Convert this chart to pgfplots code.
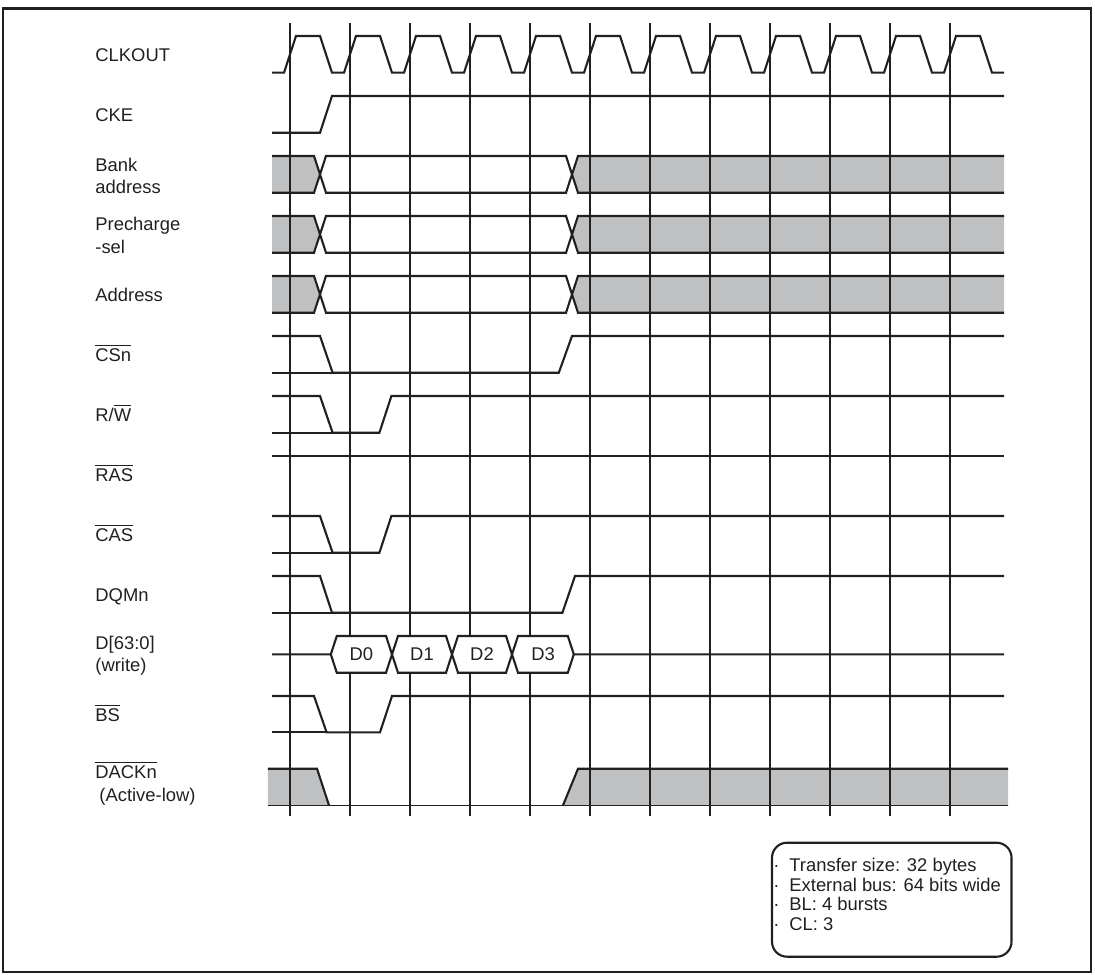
\documentclass[border=0pt]{standalone}
\usepackage{pgfplots}
\pgfplotsset{compat=1.18}
\usepackage{fontspec}
\setmainfont{Liberation Sans}
\definecolor{busgray}{RGB}{191,192,194}
\definecolor{sig}{RGB}{35,31,32}
\newcommand{\lf}{\fontsize{9.2}{11}\selectfont}
\newcommand{\ol}[1]{$\overline{\hbox{#1}}$}
\newcommand{\lab}[3]{\node[anchor=base west, inner sep=0pt, font=\lf, text=sig] at (axis cs:#1,#2) {#3};}
\begin{document}
\begin{tikzpicture}
\begin{axis}[hide axis, scale only axis, width=547.5pt, height=487pt,
  xmin=-4.83333, xmax=13.41667, ymin=0, ymax=974, y dir=reverse, clip=false,
  s/.style={sig, line width=1.05pt, no markers, solid, line join=miter, miter limit=4},
  g/.style={fill=busgray, draw=none, no markers}]
\path (rel axis cs:0,0) rectangle (rel axis cs:1,1);
% ---- gray fills (bus don't-care regions)
\addplot[g] coordinates {(-0.3,156) (0.4,156) (0.5,174.3) (0.4,192.7) (-0.3,192.7)} --cycle;
\addplot[g] coordinates {(4.7,174.3) (4.8,156) (11.9,156) (11.9,192.7) (4.8,192.7)} --cycle;
\addplot[g] coordinates {(-0.3,216) (0.4,216) (0.5,234.3) (0.4,252.7) (-0.3,252.7)} --cycle;
\addplot[g] coordinates {(4.7,234.3) (4.8,216) (11.9,216) (11.9,252.7) (4.8,252.7)} --cycle;
\addplot[g] coordinates {(-0.3,276) (0.4,276) (0.5,294.3) (0.4,312.7) (-0.3,312.7)} --cycle;
\addplot[g] coordinates {(4.7,294.3) (4.8,276) (11.9,276) (11.9,312.7) (4.8,312.7)} --cycle;
\addplot[g] coordinates {(-0.37,768.7) (0.45,768.7) (0.65,805.3) (-0.37,805.3)} --cycle;
\addplot[g] coordinates {(4.55,805.3) (4.8,768.7) (11.97,768.7) (11.97,805.3)} --cycle;
% ---- clock grid lines
\pgfplotsinvokeforeach{0,...,11}{\addplot[sig, line width=0.6pt, no markers] coordinates {(#1,23) (#1,816)};}
% ---- D hexagons (white)
\addplot[fill=white, draw=none, no markers] coordinates {(0.68,654.3) (0.78,636) (1.6,636) (1.7,654.3) (1.6,672.7) (0.78,672.7)} --cycle;
\addplot[fill=white, draw=none, no markers] coordinates {(1.7,654.3) (1.8,636) (2.6,636) (2.7,654.3) (2.6,672.7) (1.8,672.7)} --cycle;
\addplot[fill=white, draw=none, no markers] coordinates {(2.7,654.3) (2.8,636) (3.6,636) (3.7,654.3) (3.6,672.7) (2.8,672.7)} --cycle;
\addplot[fill=white, draw=none, no markers] coordinates {(3.7,654.3) (3.8,636) (4.63,636) (4.73,654.3) (4.63,672.7) (3.8,672.7)} --cycle;
% ---- signals
% CLKOUT
\addplot[s] coordinates {(-0.3,72.7)
 (-0.1,72.7)(0.1,36)(0.5,36)(0.7,72.7)
 (0.9,72.7)(1.1,36)(1.5,36)(1.7,72.7)
 (1.9,72.7)(2.1,36)(2.5,36)(2.7,72.7)
 (2.9,72.7)(3.1,36)(3.5,36)(3.7,72.7)
 (3.9,72.7)(4.1,36)(4.5,36)(4.7,72.7)
 (4.9,72.7)(5.1,36)(5.5,36)(5.7,72.7)
 (5.9,72.7)(6.1,36)(6.5,36)(6.7,72.7)
 (6.9,72.7)(7.1,36)(7.5,36)(7.7,72.7)
 (7.9,72.7)(8.1,36)(8.5,36)(8.7,72.7)
 (8.9,72.7)(9.1,36)(9.5,36)(9.7,72.7)
 (9.9,72.7)(10.1,36)(10.5,36)(10.7,72.7)
 (10.9,72.7)(11.1,36)(11.5,36)(11.7,72.7)
 (11.9,72.7)};
% CKE
\addplot[s] coordinates {(-0.3,132.7) (0.5,132.7) (0.7,96) (11.9,96)};
% Bank address
\addplot[s] coordinates {(-0.3,156) (0.4,156) (0.6,192.7) (4.6,192.7) (4.8,156) (11.9,156)};
\addplot[s] coordinates {(-0.3,192.7) (0.4,192.7) (0.6,156) (4.6,156) (4.8,192.7) (11.9,192.7)};
% Precharge-sel
\addplot[s] coordinates {(-0.3,216) (0.4,216) (0.6,252.7) (4.6,252.7) (4.8,216) (11.9,216)};
\addplot[s] coordinates {(-0.3,252.7) (0.4,252.7) (0.6,216) (4.6,216) (4.8,252.7) (11.9,252.7)};
% Address
\addplot[s] coordinates {(-0.3,276) (0.4,276) (0.6,312.7) (4.6,312.7) (4.8,276) (11.9,276)};
\addplot[s] coordinates {(-0.3,312.7) (0.4,312.7) (0.6,276) (4.6,276) (4.8,312.7) (11.9,312.7)};
% CSn
\addplot[s] coordinates {(-0.3,336) (0.5,336) (0.71,372.7) (4.48,372.7) (4.7,336) (11.9,336)};
\addplot[s] coordinates {(-0.3,372.7) (0.71,372.7)};
% R/W
\addplot[s] coordinates {(-0.3,396) (0.5,396) (0.71,432.7) (1.49,432.7) (1.69,396) (11.9,396)};
\addplot[s] coordinates {(-0.3,432.7) (0.71,432.7)};
% RAS
\addplot[s] coordinates {(-0.3,456) (11.9,456)};
% CAS
\addplot[s] coordinates {(-0.3,516) (0.5,516) (0.71,552.7) (1.49,552.7) (1.69,516) (11.9,516)};
\addplot[s] coordinates {(-0.3,552.7) (0.71,552.7)};
% DQMn
\addplot[s] coordinates {(-0.3,576) (0.5,576) (0.7,612.7) (4.54,612.7) (4.75,576) (11.9,576)};
\addplot[s] coordinates {(-0.3,612.7) (0.7,612.7)};
% D[63:0]
\addplot[s] coordinates {(-0.3,654.3) (0.68,654.3) (0.78,636) (1.6,636) (1.8,672.7) (2.6,672.7) (2.8,636) (3.6,636) (3.8,672.7) (4.63,672.7) (4.73,654.3) (11.9,654.3)};
\addplot[s] coordinates {(0.68,654.3) (0.78,672.7) (1.6,672.7) (1.8,636) (2.6,636) (2.8,672.7) (3.6,672.7) (3.8,636) (4.63,636) (4.73,654.3)};
% BS
\addplot[s] coordinates {(-0.3,696) (0.4,696) (0.61,732.3) (1.5,732.3) (1.7,696) (11.9,696)};
\addplot[s] coordinates {(-0.3,732.3) (0.61,732.3)};
% DACKn
\addplot[s] coordinates {(-0.37,768.7) (0.45,768.7) (0.65,805.3)};
\addplot[s] coordinates {(4.55,805.3) (4.8,768.7) (11.97,768.7)};
\addplot[s, line width=0.8pt] coordinates {(-0.37,805.3) (11.97,805.3)};
% ---- data labels
\node[font=\lf, text=sig] at (axis cs:1.19,654.3) {D0};
\node[font=\lf, text=sig] at (axis cs:2.2,654.3) {D1};
\node[font=\lf, text=sig] at (axis cs:3.2,654.3) {D2};
\node[font=\lf, text=sig] at (axis cs:4.22,654.3) {D3};
% ---- signal names
\lab{-3.25}{61.3}{CLKOUT}
\lab{-3.25}{121}{CKE}
\lab{-3.25}{171}{Bank}
\lab{-3.25}{193}{address}
\lab{-3.25}{230.5}{Precharge}
\lab{-3.25}{253}{-sel}
\lab{-3.25}{301}{Address}
\lab{-3.25}{361}{\ol{CSn}}
\lab{-3.25}{421}{R/\ol{W}}
\lab{-3.25}{481}{\ol{RAS}}
\lab{-3.25}{541}{\ol{CAS}}
\lab{-3.25}{601}{DQMn}
\lab{-3.25}{649.5}{D[63:0]}
\lab{-3.25}{671.5}{(write)}
\lab{-3.25}{721}{\ol{BS}}
\lab{-3.25}{778.5}{\ol{DACKn}}
\lab{-3.183}{801.5}{(Active-low)}
% ---- note box
\draw[sig, line width=1.05pt, rounded corners=7.5pt] (axis cs:8.0333,842.7) rectangle (axis cs:12.025,956.7);
\lab{8.05}{871.7}{·}
\lab{8.05}{891.7}{·}
\lab{8.05}{910.7}{·}
\lab{8.05}{930.7}{·}
\lab{8.3167}{871.7}{Transfer size: 32 bytes}
\lab{8.3167}{891.7}{External bus: 64 bits wide}
\lab{8.3167}{910.7}{BL: 4 bursts}
\lab{8.3167}{930.7}{CL: 3}
% ---- frame
\draw[sig, line width=1.2pt] (axis cs:-4.7833,8.5) rectangle (axis cs:13.35,972);
\end{axis}
\end{tikzpicture}
\end{document}
